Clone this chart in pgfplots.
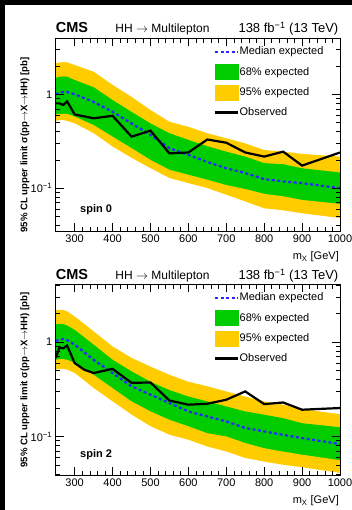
\documentclass[border=0pt]{standalone}
\usepackage{fontspec}
\setmainfont{Liberation Sans}
\usepackage{pgfplots}
\pgfplotsset{compat=1.18}
\usepackage{pgfplotstable}

\definecolor{cmsyellow}{RGB}{255,204,0}
\definecolor{cmsgreen}{RGB}{0,204,0}
\definecolor{cmsblue}{RGB}{40,40,255}

% spin 0 expected: x, -2sigma, -1sigma, median, +1sigma, +2sigma
\pgfplotstableread{
x lo2 lo1 med hi1 hi2
250 0.52 0.61 1.00 1.50 2.15
260 0.53 0.62 1.04 1.53 2.18
270 0.53 0.62 1.06 1.55 2.20
280 0.52 0.62 1.06 1.54 2.19
300 0.49 0.58 1.00 1.42 2.05
350 0.385 0.47 0.83 1.19 1.74
400 0.277 0.354 0.65 0.87 1.26
450 0.21 0.267 0.49 0.65 0.94
500 0.163 0.20 0.37 0.49 0.68
550 0.128 0.157 0.267 0.385 0.51
600 0.113 0.139 0.226 0.327 0.45
650 0.100 0.123 0.19 0.28 0.385
700 0.085 0.108 0.163 0.245 0.34
750 0.072 0.098 0.145 0.217 0.30
800 0.061 0.087 0.125 0.185 0.255
850 0.058 0.082 0.118 0.18 0.245
900 0.054 0.075 0.113 0.163 0.232
1000 0.048 0.068 0.100 0.147 0.217
}\expA
\pgfplotstableread{
x y
250 0.80
260 0.80
270 0.77
280 0.84
300 0.61
350 0.555
400 0.59
450 0.354
500 0.41
550 0.235
600 0.24
650 0.33
700 0.305
750 0.24
800 0.217
850 0.245
900 0.174
1000 0.24
}\obsA
% spin 2 expected
\pgfplotstableread{
x lo2 lo1 med hi1 hi2
250 0.51 0.65 1.03 1.55 2.20
260 0.52 0.66 1.06 1.56 2.20
270 0.52 0.66 1.08 1.55 2.18
280 0.51 0.65 1.05 1.50 2.12
300 0.47 0.60 0.94 1.35 1.87
350 0.325 0.45 0.65 0.94 1.30
400 0.235 0.325 0.47 0.65 0.90
450 0.17 0.235 0.34 0.49 0.68
500 0.128 0.184 0.277 0.38 0.55
550 0.104 0.15 0.226 0.31 0.45
600 0.092 0.128 0.184 0.265 0.38
650 0.078 0.108 0.163 0.235 0.34
700 0.069 0.100 0.144 0.208 0.30
750 0.059 0.085 0.123 0.184 0.265
800 0.054 0.075 0.113 0.17 0.235
850 0.050 0.069 0.104 0.156 0.217
900 0.047 0.064 0.096 0.138 0.195
1000 0.041 0.056 0.083 0.125 0.172
}\expB
\pgfplotstableread{
x y
250 0.68
260 0.88
270 0.86
280 0.92
300 0.60
325 0.51
350 0.47
400 0.52
450 0.37
500 0.373
550 0.24
600 0.217
650 0.222
700 0.245
750 0.30
800 0.22
850 0.229
900 0.192
1000 0.20
}\obsB

\pgfplotsset{
  linelegend/.style={legend image code/.code={
      \path[draw=none, fill=none] (0pt,-7.5pt) rectangle (23pt,7.5pt);
      \draw[#1] (0pt,0pt) -- (23pt,0pt);}},
  boxlegend/.style={legend image code/.code={
      \fill[#1] (0pt,-7.5pt) rectangle (23pt,7.5pt);}},
  every axis/.append style={
    scale only axis, width=284.3pt,
    xmin=250, xmax=1000,
    log origin y=infty,
    axis on top,
    axis line style={line width=0.8pt},
    every tick/.style={black, line width=0.6pt},
    tick align=inside,
    major tick length=8pt, minor tick length=4.5pt,
    xtick={300,400,500,600,700,800,900,1000},
    xticklabels={300,400,500,600,700,800,900,1000},
    minor x tick num=4,
    ytick={0.1,1},
    yticklabels={10\textsuperscript{−1},1},
    minor ytick={0.03,0.04,0.05,0.06,0.07,0.08,0.09,0.2,0.3,0.4,0.5,0.6,0.7,0.8,0.9,2,3,4},
    ticklabel style={font=\fontsize{11}{13}\selectfont},
    legend style={draw=none, fill=none, inner sep=0pt, outer sep=0pt,
      at={(0.557,0.969)}, anchor=north west, row sep=5pt,
      font=\fontsize{11}{13}\selectfont,
      nodes={inner sep=0pt, outer sep=0pt},
      /tikz/every even column/.append style={column sep=4pt}},
    legend cell align=left,
  },
}

\begin{document}
\begin{tikzpicture}[x=1pt,y=1pt]
\useasboundingbox (0pt,0pt) rectangle (352pt,510pt);
\fill[black] (0pt,0pt) rectangle (352pt,510pt);
\fill[white] (5pt,0pt) rectangle (352pt,505pt);

% ---------- spin 0 ----------
\begin{axis}[ymode=log, at={(55.7pt,279pt)}, anchor=south west, height=192.7pt,
  ymin=0.035, ymax=3.95]
\addlegendimage{linelegend={cmsblue, line width=2.2pt, dash pattern=on 3pt off 2.5pt}}
\addlegendentry{Median expected}
\addlegendimage{boxlegend={cmsgreen}}
\addlegendentry{68\% expected}
\addlegendimage{boxlegend={cmsyellow}}
\addlegendentry{95\% expected}
\addlegendimage{linelegend={black, line width=2.6pt}}
\addlegendentry{Observed}
\addplot[fill=cmsyellow, draw=none, forget plot] table[x=x,y=hi2]{\expA} \closedcycle;
\addplot[fill=cmsgreen, draw=none, forget plot] table[x=x,y=hi1]{\expA} \closedcycle;
\addplot[fill=cmsyellow, draw=none, forget plot] table[x=x,y=lo1]{\expA} \closedcycle;
\addplot[fill=white, draw=none, forget plot] table[x=x,y=lo2]{\expA} \closedcycle;
\addplot[cmsblue, line width=2.2pt, dash pattern=on 3pt off 2.5pt, forget plot] table[x=x,y=med]{\expA};
\addplot[black, line width=2.2pt, forget plot] table[x=x,y=y]{\obsA};
\end{axis}

% ---------- spin 2 ----------
\begin{axis}[ymode=log, at={(55.7pt,35pt)}, anchor=south west, height=190.7pt,
  ymin=0.039, ymax=4.1]
\addlegendimage{linelegend={cmsblue, line width=2.2pt, dash pattern=on 3pt off 2.5pt}}
\addlegendentry{Median expected}
\addlegendimage{boxlegend={cmsgreen}}
\addlegendentry{68\% expected}
\addlegendimage{boxlegend={cmsyellow}}
\addlegendentry{95\% expected}
\addlegendimage{linelegend={black, line width=2.6pt}}
\addlegendentry{Observed}
\addplot[fill=cmsyellow, draw=none, forget plot] table[x=x,y=hi2]{\expB} \closedcycle;
\addplot[fill=cmsgreen, draw=none, forget plot] table[x=x,y=hi1]{\expB} \closedcycle;
\addplot[fill=cmsyellow, draw=none, forget plot] table[x=x,y=lo1]{\expB} \closedcycle;
\addplot[fill=white, draw=none, forget plot] table[x=x,y=lo2]{\expB} \closedcycle;
\addplot[cmsblue, line width=2.2pt, dash pattern=on 3pt off 2.5pt, forget plot] table[x=x,y=med]{\expB};
\addplot[black, line width=2.2pt, forget plot] table[x=x,y=y]{\obsB};
\end{axis}

% ---------- texts ----------
\foreach \yb/\ym/\yl/\ys/\spin in {477/365/250/297/0, 230/130/6/52/2} {
  \node[anchor=base west, inner sep=0pt, font=\fontsize{14.5}{16}\selectfont\bfseries] at (55.7pt,\yb pt) {CMS};
  \node[anchor=base, inner sep=0pt, font=\fontsize{12}{14}\selectfont] at (162.5pt,\yb pt) {HH $\rightarrow$ Multilepton};
  \node[anchor=base east, inner sep=0pt, font=\fontsize{13}{15}\selectfont] at (338.5pt,\yb pt) {138 fb\textsuperscript{−1} (13 TeV)};
  \node[anchor=base west, inner sep=0pt, font=\fontsize{11}{13}\selectfont\bfseries] at (80pt,\ys pt) {spin \spin};
  \node[anchor=base east, inner sep=0pt, font=\fontsize{11}{13}\selectfont] at (339pt,\yl pt) {m\textsubscript{X} [GeV]};
  \node[rotate=90, anchor=center, inner sep=0pt, font=\fontsize{9.6}{12}\selectfont\bfseries] at (25pt,\ym pt) {95\% CL upper limit  σ(pp$\rightarrow$X$\rightarrow$HH) [pb]};
}
\end{tikzpicture}
\end{document}
